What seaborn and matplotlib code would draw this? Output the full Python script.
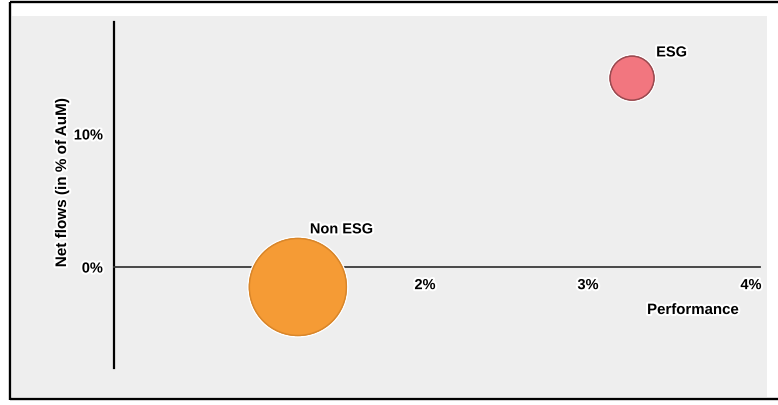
import matplotlib
matplotlib.use("Agg")
import matplotlib.pyplot as plt
import seaborn as sns
import pandas as pd
from matplotlib import patheffects as pe
from matplotlib.patches import Rectangle
from matplotlib.lines import Line2D

# Fund groups: performance (%), net flows (% of AuM) and share of assets
funds = ["ESG", "Non ESG"]
performance = [3.27, 1.22]
net_flows = [14.2, -1.5]
aum_share = [17, 83]
fund_colors = ["#F2767F", "#F59B35"]
edge_colors = ["#9A4A50", "#D9862A"]
x_ticks = [2, 3, 4]
x_tick_labels = ["2%", "3%", "4%"]
y_ticks = [0, 10]
y_tick_labels = ["0%", "10%"]

df = pd.DataFrame({"fund": funds, "performance": performance,
                   "net_flows": net_flows, "aum": aum_share})

sns.set_theme(style="white")
plt.rcParams["font.family"] = ["Liberation Sans", "DejaVu Sans"]
plt.rcParams["font.weight"] = "bold"

W, H = 778, 405
fig = plt.figure(figsize=(W / 100, H / 100), dpi=100)
fig.patch.set_facecolor("white")

def fx(px):
    return px / W

def fy(py):
    return 1 - py / H

# grey panel and black frame
fig.add_artist(Rectangle((fx(12), fy(397)), fx(767) - fx(12), fy(16) - fy(397),
                         transform=fig.transFigure, facecolor="#EEEEEE",
                         edgecolor="none", zorder=0))
frame = dict(color="black", lw=1.7, solid_capstyle="butt", zorder=1)
fig.add_artist(Line2D([fx(9.5), fx(9.5)], [fy(1.5), fy(399.5)], **frame))
fig.add_artist(Line2D([fx(9.5), 1], [fy(1.7), fy(1.7)], **frame))
fig.add_artist(Line2D([fx(9.5), 1], [fy(399.3), fy(399.3)], **frame))

ax = fig.add_axes([fx(114), fy(368), fx(760) - fx(114), fy(22) - fy(368)])
ax.set_facecolor("none")

halo = [pe.withStroke(linewidth=3, foreground="white")]

max_area = 4875
sns.scatterplot(data=df, x="performance", y="net_flows", size="aum",
                sizes=(0, max_area), size_norm=(0, max(aum_share)),
                hue="fund", palette=dict(zip(funds, fund_colors)),
                legend=False, ax=ax, zorder=3, linewidth=1)
coll = ax.collections[-1]
coll.set_edgecolors(edge_colors)
coll.set_path_effects(halo + [pe.Normal()])

ax.set_xlim(0.092, 4.055)
ax.set_ylim(-7.59, 18.42)

for s in ["top", "right"]:
    ax.spines[s].set_visible(False)
ax.spines["left"].set_color("black")
ax.spines["left"].set_linewidth(1.6)
ax.spines["bottom"].set_position(("data", 0))
ax.spines["bottom"].set_color("#3A3A3A")
ax.spines["bottom"].set_linewidth(1.3)
ax.spines["left"].set_zorder(2)
ax.spines["bottom"].set_zorder(2)

ax.set_xticks(x_ticks)
ax.set_xticklabels(x_tick_labels, fontsize=10.5, fontweight="bold", color="black")
ax.tick_params(axis="x", length=0, pad=8)
ax.set_yticks(y_ticks)
ax.set_yticklabels(y_tick_labels, fontsize=10.5, fontweight="bold", color="black")
ax.tick_params(axis="y", length=4.3, width=1.3, color="#3A3A3A", pad=3.6)
ax.yaxis.get_major_ticks()[1].tick1line.set_visible(False)
for lab in ax.get_xticklabels() + ax.get_yticklabels():
    lab.set_path_effects(halo)
ax.set_xlabel("")
ax.set_ylabel("")

# bubble labels
offsets = {"ESG": (28.5, 18.5), "Non ESG": (31.5, 41.5)}
for f, x, y in zip(funds, performance, net_flows):
    ax.annotate(f, xy=(x, y), xytext=offsets[f], textcoords="offset points",
                ha="center", va="center", fontsize=10.5, fontweight="bold",
                color="black", path_effects=halo, zorder=4)

fig.text(fx(693), fy(310), "Performance", ha="center", va="center",
         fontsize=10.8, fontweight="bold", color="black", path_effects=halo)
fig.text(fx(62), fy(182.5), "Net flows (in % of AuM)", ha="center", va="center",
         rotation=90, fontsize=11, fontweight="bold", color="black",
         path_effects=halo)

fig.savefig("out.png", dpi=100)
